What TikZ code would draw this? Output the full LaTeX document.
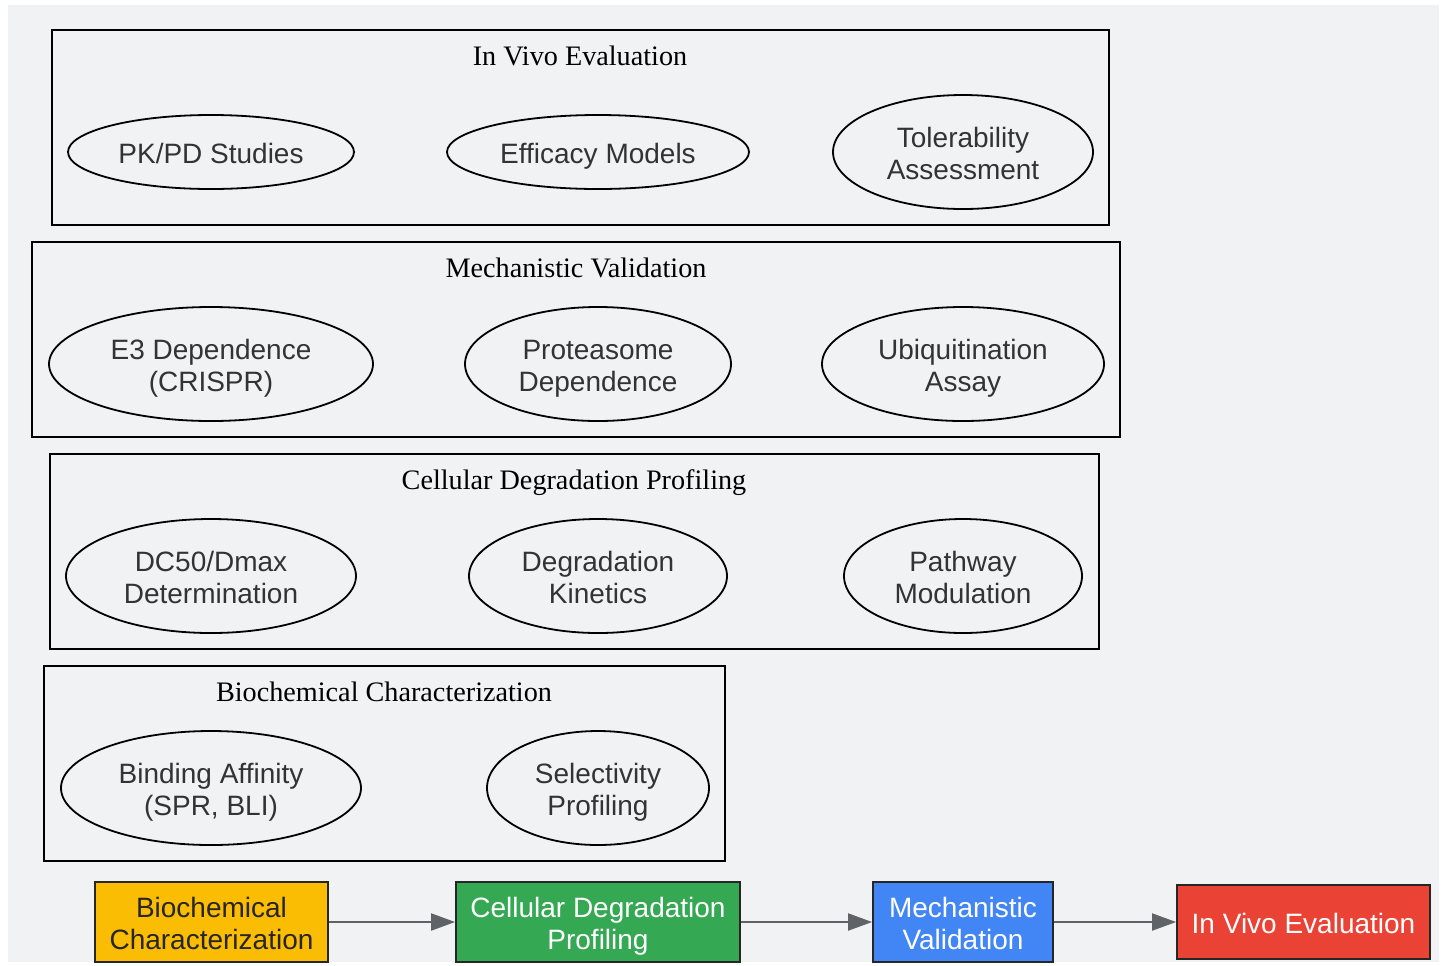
\documentclass[tikz,border=0pt]{standalone}
\usepackage{fontspec}
\setmainfont{Liberation Serif}
\setsansfont{Liberation Sans}
\usetikzlibrary{shapes.geometric,arrows.meta}
\definecolor{bggray}{HTML}{F1F2F4}
\definecolor{textgray}{HTML}{333333}
\definecolor{arrowgray}{HTML}{5F6368}
\definecolor{phaseyellow}{HTML}{FBBC04}
\definecolor{phasegreen}{HTML}{34A853}
\definecolor{phaseblue}{HTML}{4285F4}
\definecolor{phasered}{HTML}{EA4335}
\tikzset{
  onerow/.style={text height=14pt, text depth=3pt},
  tworow/.style={text height=30pt, text depth=3pt},
  assay/.style={ellipse, draw, line width=0.9pt, inner sep=0pt, align=center,
    text=textgray, font=\sffamily\fontsize{14}{16}\selectfont},
  group/.style={rectangle, draw, line width=0.9pt, inner sep=0pt},
  grouptitle/.style={anchor=base, font=\fontsize{14.1}{16}\selectfont},
  phase/.style={rectangle, draw=black!85, line width=0.9pt, inner sep=0pt, align=center,
    minimum height=40pt, text=white, font=\sffamily\fontsize{14}{16}\selectfont},
  flow/.style={draw=arrowgray, line width=1pt, -{Triangle[length=12pt,width=8.5pt]}}
}
\begin{document}
\begin{tikzpicture}[x=0.5pt,y=-0.5pt]
\useasboundingbox (0,0) rectangle (1445,965);
\fill[bggray] (8,5) rectangle (1439,962);
% In Vivo Evaluation
\node[group, minimum width=528.5pt, minimum height=97.5pt] (vivo) at (580.5,127.5) {};
\node[grouptitle] (vivotitle) at (580,65) {In Vivo Evaluation};
\node[assay, onerow, minimum width=143pt, minimum height=37pt] (pkpd) at (211,152) {PK/PD Studies};
\node[assay, onerow, minimum width=151pt, minimum height=37pt] (efficacy) at (598,152) {Efficacy Models};
\node[assay, tworow, minimum width=130pt, minimum height=57pt] (tolerability) at (963,152) {Tolerability\\Assessment};
% Mechanistic Validation
\node[group, minimum width=544pt, minimum height=97.5pt] (mech) at (576,339.5) {};
\node[grouptitle] (mechtitle) at (576,277) {Mechanistic Validation};
\node[assay, tworow, minimum width=162pt, minimum height=57pt] (ethree) at (211,364) {E3 Dependence\\(CRISPR)};
\node[assay, tworow, minimum width=133pt, minimum height=57pt] (proteasome) at (598,364) {Proteasome\\Dependence};
\node[assay, tworow, minimum width=141pt, minimum height=57pt] (ubiq) at (963,364) {Ubiquitination\\Assay};
% Cellular Degradation Profiling
\node[group, minimum width=524.5pt, minimum height=97.5pt] (cell) at (574.5,551.5) {};
\node[grouptitle] (celltitle) at (574,489) {Cellular Degradation Profiling};
\node[assay, tworow, minimum width=145pt, minimum height=57pt] (dcfifty) at (211,576) {DC50/Dmax\\Determination};
\node[assay, tworow, minimum width=129pt, minimum height=57pt] (kinetics) at (598,576) {Degradation\\Kinetics};
\node[assay, tworow, minimum width=119pt, minimum height=57pt] (pathway) at (963,576) {Pathway\\Modulation};
% Biochemical Characterization
\node[group, minimum width=340.5pt, minimum height=97.5pt] (bio) at (384.5,763.5) {};
\node[grouptitle] (biotitle) at (384,701) {Biochemical Characterization};
\node[assay, tworow, minimum width=150pt, minimum height=57pt] (binding) at (211,788) {Binding Affinity\\(SPR, BLI)};
\node[assay, tworow, minimum width=111pt, minimum height=57pt] (selectivity) at (598,788) {Selectivity\\Profiling};
% phases
\node[phase, tworow, fill=phaseyellow, text=black!85, minimum width=116.5pt] (biophase) at (211.5,922) {Biochemical\\Characterization};
\node[phase, tworow, fill=phasegreen, minimum width=142pt] (cellphase) at (598,922) {Cellular Degradation\\Profiling};
\node[phase, tworow, fill=phaseblue, minimum width=90pt] (mechphase) at (963,922) {Mechanistic\\Validation};
\node[phase, onerow, fill=phasered, minimum width=126.5pt, minimum height=37pt] (vivophase) at (1303.5,922) {In Vivo Evaluation};
\draw[flow] (biophase) -- (cellphase);
\draw[flow] (cellphase) -- (mechphase);
\draw[flow] (mechphase) -- (vivophase);
\end{tikzpicture}
\end{document}
